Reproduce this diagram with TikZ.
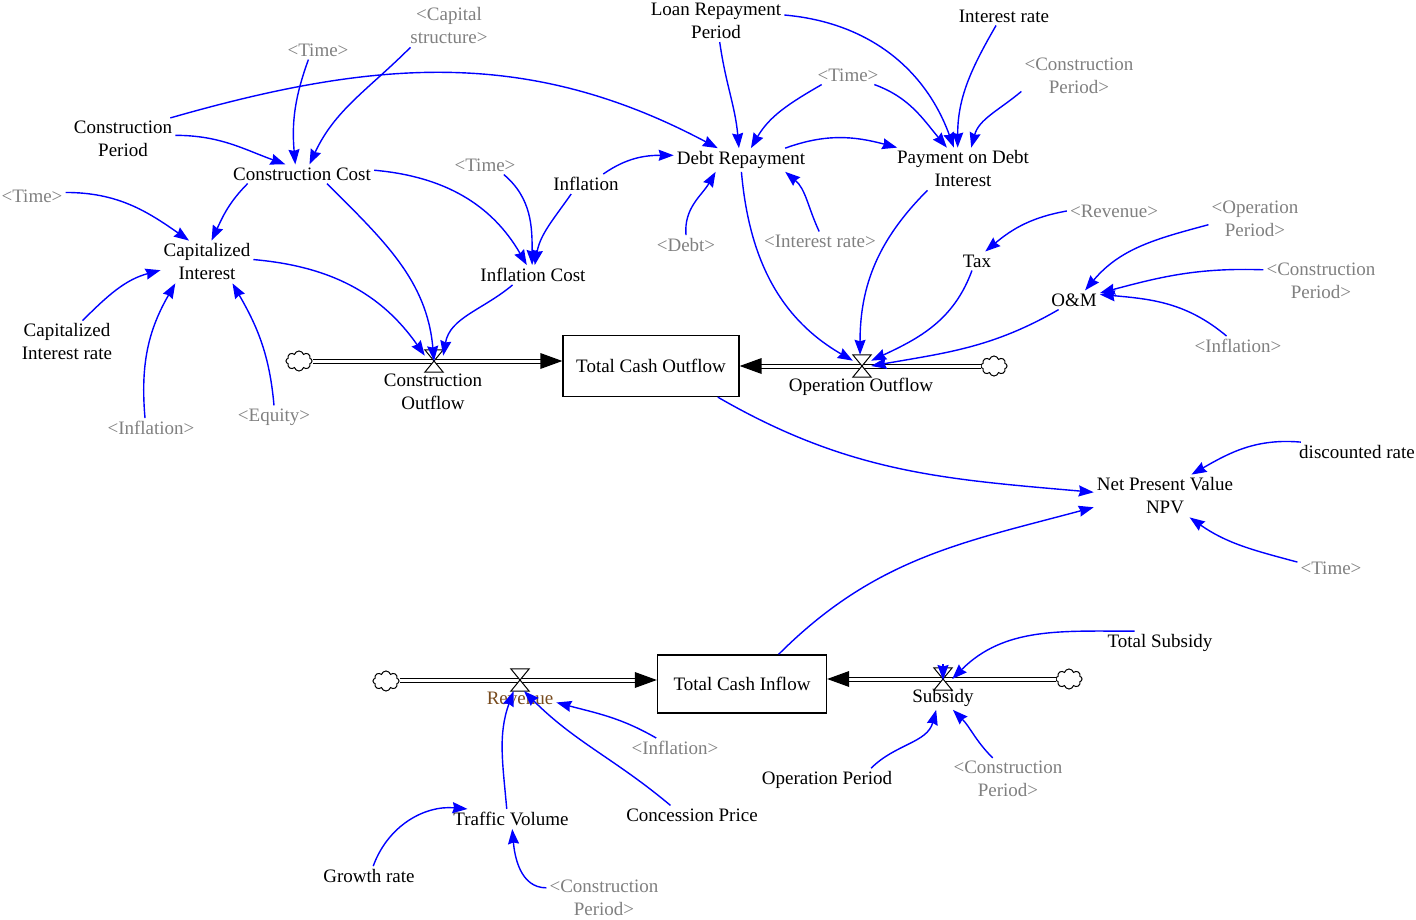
\documentclass[tikz,border=0pt]{standalone}
\usepackage{fontspec}
\setmainfont{Liberation Serif}
\usetikzlibrary{arrows.meta,shapes.symbols}
\definecolor{shadowgray}{RGB}{128,128,128}
\definecolor{linkblue}{RGB}{0,0,255}
\definecolor{flowbrown}{RGB}{120,75,30}
\begin{document}
\begin{tikzpicture}[x=1pt,y=1pt,
  var/.style={font=\fontsize{19}{23}\selectfont, align=center, inner sep=3pt, text=black},
  shadow/.style={var, text=shadowgray},
  conn/.style={draw=linkblue, line width=1.4pt, -{Stealth[length=15pt,width=11pt,inset=1.5pt]}},
  stock/.style={draw, line width=1.3pt, font=\fontsize{19}{23}\selectfont, inner sep=0},
  valvenode/.style={minimum width=18pt, minimum height=22pt, inner sep=0},
  pipe/.style={draw, line width=1pt, double=white, double distance=3pt},
  cloudnode/.style={cloud, cloud puffs=8, draw, line width=1pt, minimum width=26pt, minimum height=20pt, inner sep=0, fill=white, aspect=1.4},
]
\useasboundingbox (0,0) rectangle (1416,-920);

% ---------- variables ----------
\node[var] (cp) at (123,-139) {Construction\\Period};
\node[shadow] (t1) at (318,-50) {<Time>};
\node[shadow] (cap) at (449,-26) {<Capital\\structure>};
\node[var] (lrp) at (716,-21) {Loan Repayment\\Period};
\node[var] (ir) at (1004,-16) {Interest rate};
\node[shadow] (cpd1) at (1079,-76) {<Construction\\Period>};
\node[shadow] (t2) at (848,-75) {<Time>};
\node[var] (cc) at (302,-174) {Construction Cost};
\node[shadow] (t3) at (485,-165) {<Time>};
\node[var] (infl) at (586,-184) {Inflation};
\node[var] (dr) at (741,-160) {Debt Repayment};
\node[var] (pdi) at (963,-169) {Payment on Debt\\Interest};
\node[shadow] (t4) at (32,-196) {<Time>};
\node[var] (ci) at (207,-262) {Capitalized\\Interest};
\node[shadow] (debt) at (686,-245) {<Debt>};
\node[shadow] (irs) at (820,-241) {<Interest rate>};
\node[shadow] (rev) at (1114,-211) {<Revenue>};
\node[shadow] (op1) at (1255,-219) {<Operation\\Period>};
\node[var] (tax) at (977,-261) {Tax};
\node[var] (om) at (1074,-300) {O\&M};
\node[shadow] (cpd2) at (1321,-281) {<Construction\\Period>};
\node[var] (ic) at (533,-275) {Inflation Cost};
\node[var] (cir) at (67,-342) {Capitalized\\Interest rate};
\node[shadow] (infl2) at (1238,-346) {<Inflation>};
\node[shadow] (infl3) at (151,-428) {<Inflation>};
\node[shadow] (eq) at (274,-417) {<Equity>};
\node[var] (dsc) at (1357,-452) {discounted rate};
\node[var] (npv) at (1165,-496) {Net Present Value\\NPV};
\node[shadow] (t5) at (1331,-568) {<Time>};
\node[var] (ts) at (1160,-643) {Total Subsidy};
\node[shadow] (infl4) at (675,-748) {<Inflation>};
\node[var] (opp) at (827,-780) {Operation Period};
\node[shadow] (cpd3) at (1008,-779) {<Construction\\Period>};
\node[var] (cpr) at (692,-815) {Concession Price};
\node[var] (tv) at (511,-819) {Traffic Volume};
\node[var] (gr) at (369,-876) {Growth rate};
\node[shadow] (cpd4) at (604,-898) {<Construction\\Period>};

% ---------- stocks ----------
\node[stock, minimum width=176pt, minimum height=61pt] (tco) at (651,-366) {Total Cash Outflow};
\node[stock, minimum width=169pt, minimum height=58pt] (tci) at (742,-684) {Total Cash Inflow};

% ---------- clouds ----------
\node[cloudnode] (cl1) at (299,-361) {};
\node[cloudnode] (cl2) at (994,-366) {};
\node[cloudnode] (cl3) at (386,-681) {};
\node[cloudnode] (cl4) at (1069,-679) {};

% ---------- valves ----------
\node[valvenode] (cov) at (434,-361) {};
\node[valvenode] (oov) at (862,-366) {};
\node[valvenode] (rvv) at (520,-680) {};
\node[valvenode] (sbv) at (943,-679) {};

% ---------- pipes ----------
\coordinate (tip1) at (tco.west |- cov);
\coordinate (tip2) at (tco.east |- oov);
\coordinate (tip3) at (tci.west |- rvv);
\coordinate (tip4) at (tci.east |- sbv);
\draw[pipe] (cl1.east |- cov) -- ([xshift=-21pt]tip1);
\fill (tip1) -- ++(-22,8) -- ++(0,-16) -- cycle;
\draw[pipe] (cl2.west |- oov) -- ([xshift=21pt]tip2);
\fill (tip2) -- ++(22,8) -- ++(0,-16) -- cycle;
\draw[pipe] (cl3.east |- rvv) -- ([xshift=-21pt]tip3);
\fill (tip3) -- ++(-22,8) -- ++(0,-16) -- cycle;
\draw[pipe] (cl4.west |- sbv) -- ([xshift=21pt]tip4);
\fill (tip4) -- ++(22,8) -- ++(0,-16) -- cycle;

\foreach \v in {cov,oov,rvv,sbv}{
  \filldraw[fill=white, draw=black, line width=1pt]
    (\v.north west) -- (\v.north east) -- (\v.south west) -- (\v.south east) -- cycle;
}

% ---------- flow labels ----------
\node[var] (col) at (433,-392) {Construction\\Outflow};
\node[var] (ool) at (861,-387) {Operation Outflow};
\node[var, text=flowbrown] (rvl) at (520,-698) {Revenue};
\node[var] (sbl) at (943,-698) {Subsidy};

% ---------- connectors ----------
\draw[conn] (cp.24) to[out=16,in=152] (dr.153);
\draw[conn] (cp.4) to[out=0,in=160] (cc.150);
\draw[conn] (t1.225) to[out=250,in=95] (cc.125);
\draw[conn] (cap.209) to[out=225,in=65] (cc.52);
\draw[conn] (t4.6) to[out=0,in=145] (ci.130);
\draw[conn] (cc.190) to[out=225,in=65] (ci.78);
\draw[conn] (cc.3) to[out=-5,in=120] (ic.122);
\draw[conn] (t3.-27) to[out=-40,in=90] (ic.95);
\draw[conn] (infl.214) to[out=235,in=80] (ic.80);
\draw[conn] (infl.30) to[out=35,in=180] (dr.176);
\draw[conn] (lrp.-80) to[out=-82,in=95] (dr.100);
\draw[conn] (t2.200) to[out=210,in=60] (dr.50);
\draw[conn] (t2.-20) to[out=-20,in=130] (pdi.127);
\draw[conn] (lrp.5) to[out=-5,in=110] (pdi.113);
\draw[conn] (ir.230) to[out=240,in=90] (pdi.104);
\draw[conn] (cpd1.195) to[out=220,in=75] (pdi.69);
\draw[conn] (dr.15) to[out=20,in=165] (pdi.162);
\draw[conn] (debt.90) to[out=95,in=240] (dr.205);
\draw[conn] (irs.95) to[out=115,in=-40] (dr.-15);
\draw[conn] (dr.-88) to[out=-85,in=150] (oov.150);
\draw[conn] (pdi.211) to[out=225,in=90] (oov.100);
\draw[conn] (tax.242) to[out=250,in=25] (oov.30);
\draw[conn] (om.212) to[out=210,in=10] (oov.east);
\draw[conn] (rev.180) to[out=190,in=40] (tax.49);
\draw[conn] (op1.187) to[out=195,in=50] (om.41);
\draw[conn] (cpd2.169) to[out=178,in=15] (om.15);
\draw[conn] (infl2.139) to[out=140,in=-5] (om.12);
\draw[conn] (ci.3) to[out=-5,in=125] (cov.150);
\draw[conn] (ic.206) to[out=220,in=80] (cov.30);
\draw[conn] (cc.-21) to[out=-45,in=95] (cov.center);
\draw[conn] (cir.54) to[out=45,in=195] (ci.190);
\draw[conn] (infl3.121) to[out=95,in=240] (ci.214);
\draw[conn] (eq.90) to[out=95,in=-60] (ci.-40);
\draw[conn] (tco.-25) to[out=-30,in=175] (npv.177);
\draw[conn] (dsc.170) to[out=175,in=30] (npv.39);
\draw[conn] (t5.170) to[out=165,in=-35] (npv.-41);
\draw[conn] (tci.39) to[out=45,in=195] (npv.189);
\draw[conn] (ts.155) to[out=180,in=45] (sbv.east);
\draw[conn] ([yshift=15pt]sbv.center) -- ([yshift=-1pt]sbv.center);
\draw[conn] (opp.15) to[out=45,in=255] (sbl.240);
\draw[conn] (cpd3.126) to[out=135,in=-45] (sbl.-50);
\draw[conn] (infl4.152) to[out=150,in=-15] (rvl.-7);
\draw[conn] (cpr.156) to[out=140,in=-45] (rvv.290);
\draw[conn] (tv.113) to[out=95,in=250] (rvv.240);
\draw[conn] (gr.67) to[out=70,in=175] (tv.167);
\draw[conn] (cpd4.170) to[out=180,in=-85] (tv.-83);
\end{tikzpicture}
\end{document}
